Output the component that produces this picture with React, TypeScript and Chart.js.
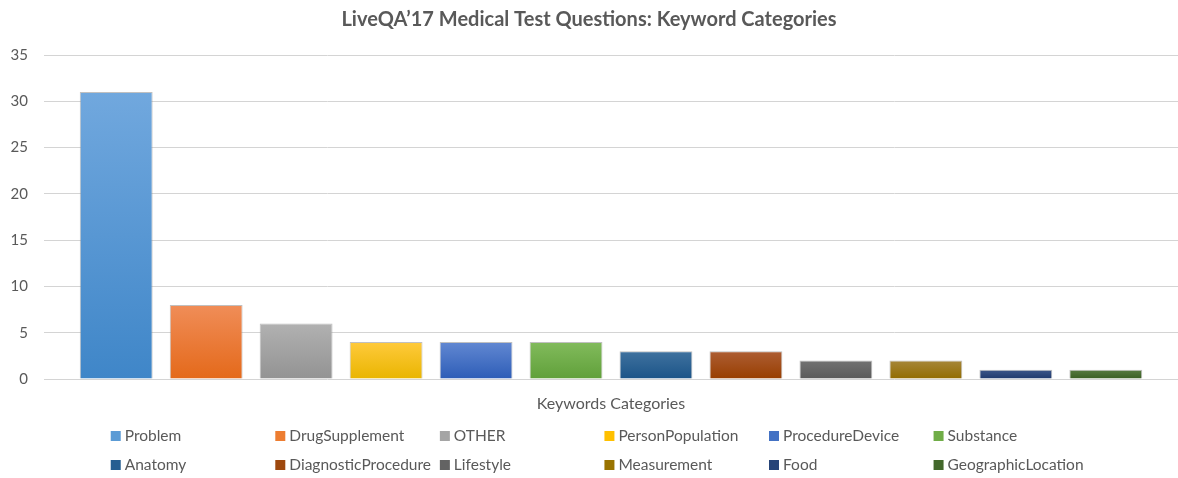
import React, { useEffect, useRef } from "react";
import { Chart, registerables } from "chart.js";

Chart.register(...registerables);

const TITLE = "LiveQA’17 Medical Test Questions: Keyword Categories";
const CATEGORIES = ["Keywords Categories"];
const SERIES_NAMES = [
  "Problem",
  "DrugSupplement",
  "OTHER",
  "PersonPopulation",
  "ProcedureDevice",
  "Substance",
  "Anatomy",
  "DiagnosticProcedure",
  "Lifestyle",
  "Measurement",
  "Food",
  "GeographicLocation",
];
const SERIES_VALUES = [31, 8, 6, 4, 4, 4, 3, 3, 2, 2, 1, 1];
const BASE_COLORS = [
  "#5B9BD5", "#ED7D31", "#A5A5A5", "#FFC000", "#4472C4", "#70AD47",
  "#255E91", "#9E480E", "#636363", "#997300", "#264478", "#43682B",
];
const TOP_COLORS = [
  "#71A8DE", "#F08D58", "#B1B1B1", "#FFCA3C", "#6288D2", "#82BB5C",
  "#40729F", "#AD5E34", "#727272", "#A68639", "#3D578A", "#577A41",
];
const BOTTOM_COLORS = [
  "#3F86C8", "#E4691A", "#939393", "#E9B500", "#2D5DB7", "#60A03A",
  "#1B5488", "#983E00", "#5A5A5A", "#926C00", "#1E396D", "#395E22",
];
const Y_MIN = 0;
const Y_MAX = 35;
const Y_STEP = 5;

const FONT = "Lato, 'Open Sans', sans-serif";
const TEXT_COLOR = "#595959";

const gridLegendPlugin = {
  id: "gridLegend",
  afterDraw(chart: any) {
    const ctx = chart.ctx;
    const cols = 6;
    const startX = chart.width * 0.094;
    const pitch = chart.width * 0.1397;
    const rowY = [436, 465];
    ctx.save();
    ctx.font = `15.5px ${FONT}`;
    ctx.textBaseline = "middle";
    ctx.textAlign = "left";
    chart.data.datasets.forEach((ds: any, i: number) => {
      const col = i % cols;
      const row = Math.floor(i / cols);
      const x = startX + col * pitch;
      const y = rowY[row];
      ctx.fillStyle = ds.legendColor;
      ctx.fillRect(x, y - 5, 10, 10);
      ctx.fillStyle = TEXT_COLOR;
      ctx.fillText(ds.label, x + 14, y);
    });
    ctx.restore();
  },
};

export default function App() {
  const canvasRef = useRef<HTMLCanvasElement | null>(null);

  useEffect(() => {
    document.body.style.margin = "0";
    const canvas = canvasRef.current;
    if (!canvas) return;

    const datasets = SERIES_NAMES.map((name, i) => ({
      label: name,
      data: [SERIES_VALUES[i]],
      legendColor: BASE_COLORS[i],
      backgroundColor: (context: any) => {
        const chart = context.chart;
        const area = chart.chartArea;
        if (!area || context.type !== "data") return BASE_COLORS[i];
        const yScale = chart.scales.y;
        const top = yScale.getPixelForValue(context.raw);
        const bottom = yScale.getPixelForValue(0);
        if (!isFinite(top) || !isFinite(bottom) || top === bottom) return BASE_COLORS[i];
        const g = chart.ctx.createLinearGradient(0, top, 0, bottom);
        g.addColorStop(0, TOP_COLORS[i]);
        g.addColorStop(1, BOTTOM_COLORS[i]);
        return g;
      },
      borderColor: "rgba(140,140,140,0.55)",
      borderWidth: 1,
      barPercentage: 0.81,
      categoryPercentage: 0.952,
    }));

    const chart = new Chart(canvas, {
      type: "bar",
      data: { labels: CATEGORIES, datasets: datasets as any },
      plugins: [gridLegendPlugin],
      options: {
        responsive: false,
        animation: false,
        layout: { padding: { left: 0, right: 0, top: 0, bottom: 60 } },
        plugins: {
          legend: { display: false },
          tooltip: { enabled: false },
          title: {
            display: true,
            text: TITLE,
            color: TEXT_COLOR,
            font: { family: FONT, size: 20, weight: "bold" },
            padding: { top: 8, bottom: 23 },
          },
        },
        scales: {
          x: {
            grid: { display: false },
            border: { display: false },
            ticks: {
              color: TEXT_COLOR,
              font: { family: FONT, size: 16 },
              padding: 7,
            },
            afterFit: (scale: any) => {
              scale.height = 39;
            },
          },
          y: {
            min: Y_MIN,
            max: Y_MAX,
            border: { display: false },
            grid: { color: "#D4D4D4", lineWidth: 1, drawTicks: false },
            ticks: {
              stepSize: Y_STEP,
              color: TEXT_COLOR,
              font: { family: FONT, size: 15 },
              padding: 16,
            },
            afterFit: (scale: any) => {
              scale.width = 44;
            },
          },
        },
      },
    });

    return () => {
      chart.destroy();
    };
  }, []);

  return (
    <div style={{ width: 1178, height: 478, background: "#fff" }}>
      <canvas ref={canvasRef} width={1178} height={478} />
    </div>
  );
}
